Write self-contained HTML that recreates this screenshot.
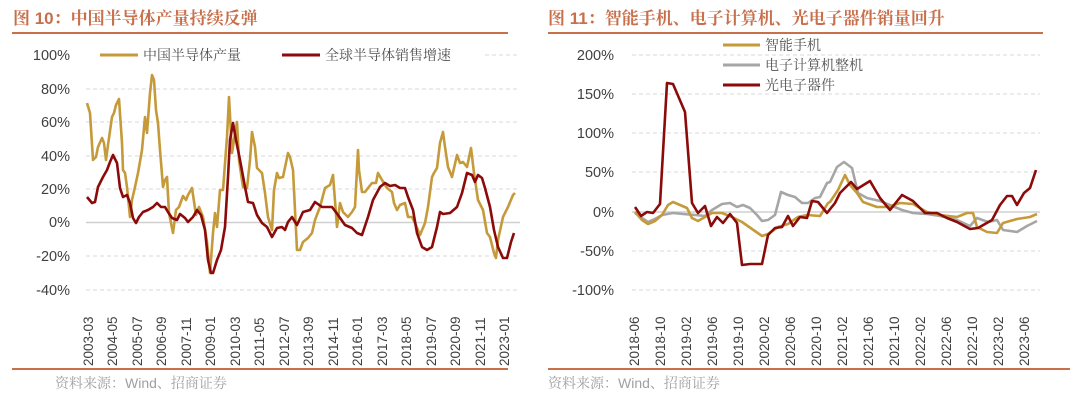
<!DOCTYPE html>
<html><head><meta charset="utf-8"><style>
body{margin:0;background:#fff;}
svg{display:block;font-family:"Liberation Sans","Noto Sans CJK SC",sans-serif;}
.t{font-size:17px;font-weight:bold;fill:#c8704c;font-family:"Liberation Sans","Noto Serif CJK SC",serif;}
.y{font-size:14.5px;fill:#404040;text-anchor:end;}
.x{font-size:13.5px;fill:#404040;}
.lg{font-size:14px;fill:#505050;font-family:"Liberation Sans","Noto Serif CJK SC",serif;}
.g{stroke:#d9d9d9;stroke-dasharray:4,3;stroke-width:1;}
.ln{fill:none;stroke-width:2.6;stroke-linejoin:round;}
.ft{font-size:14px;fill:#a0a0a0;font-family:"Liberation Sans","Noto Serif CJK SC",serif;}
</style></head><body>
<svg width="1080" height="400" viewBox="0 0 1080 400">
<text class="t" x="13" y="24">图 10：中国半导体产量持续反弹</text>
<line x1="12" y1="33" x2="508" y2="33" stroke="#c8704c" stroke-width="2"/>
<text class="t" x="548" y="24">图 11：智能手机、电子计算机、光电子器件销量回升</text>
<line x1="548" y1="33" x2="1043" y2="33" stroke="#c8704c" stroke-width="2"/>

<g class="g">
<line x1="86" y1="55" x2="520" y2="55"/><line x1="86" y1="89" x2="520" y2="89"/>
<line x1="86" y1="122" x2="520" y2="122"/><line x1="86" y1="156" x2="520" y2="156"/>
<line x1="86" y1="189" x2="520" y2="189"/><line x1="86" y1="256" x2="520" y2="256"/>
<line x1="86" y1="290" x2="520" y2="290"/>
</g>
<line x1="86" y1="222.5" x2="520" y2="222.5" stroke="#d0d0d0" stroke-width="1.5"/>
<g class="y">
<text x="70" y="60">100%</text><text x="70" y="94">80%</text><text x="70" y="127">60%</text>
<text x="70" y="161">40%</text><text x="70" y="194">20%</text><text x="70" y="227">0%</text>
<text x="70" y="261">-20%</text><text x="70" y="295">-40%</text>
</g>
<g class="x">
<text transform="translate(93,366) rotate(-90)">2003-03</text>
<text transform="translate(117,366) rotate(-90)">2004-05</text>
<text transform="translate(142,366) rotate(-90)">2005-07</text>
<text transform="translate(166,366) rotate(-90)">2006-09</text>
<text transform="translate(191,366) rotate(-90)">2007-11</text>
<text transform="translate(215,366) rotate(-90)">2009-01</text>
<text transform="translate(240,366) rotate(-90)">2010-03</text>
<text transform="translate(264,366) rotate(-90)">2011-05</text>
<text transform="translate(289,366) rotate(-90)">2012-07</text>
<text transform="translate(313,366) rotate(-90)">2013-09</text>
<text transform="translate(338,366) rotate(-90)">2014-11</text>
<text transform="translate(362,366) rotate(-90)">2016-01</text>
<text transform="translate(387,366) rotate(-90)">2017-03</text>
<text transform="translate(411,366) rotate(-90)">2018-05</text>
<text transform="translate(436,366) rotate(-90)">2019-07</text>
<text transform="translate(460,366) rotate(-90)">2020-09</text>
<text transform="translate(485,366) rotate(-90)">2021-11</text>
<text transform="translate(509,366) rotate(-90)">2023-01</text>
</g>
<polyline class="ln" stroke="#c59a3a" points="87,103 90,113 93,160 96,157 98,147 102,138 104,143 106,160 108,145 112,117 114,113 116,105 119,99 122,143 123,170 125,173 127,187 130,217 132,200 135,187 138,173 142,150 145,117 147,133 150,93 152,75 154,80 156,110 158,123 160,150 163,187 165,180 167,177 169,213 173,233 176,210 179,207 183,196 186,200 188,195 192,188 196,215 199,207 203,217 207,242 210,273 213,233 215,213 217,227 220,190 223,190 227,137 229,97 232,153 234,140 237,122 239,160 243,187 247,188 250,160 252,132 255,147 257,168 262,173 265,193 268,217 272,230 274,190 277,173 279,178 283,177 288,153 290,157 293,170 297,250 300,250 303,242 308,238 312,233 315,220 320,207 325,188 330,185 333,175 337,227 340,203 343,212 348,217 352,212 355,207 358,150 359,170 362,192 365,192 368,188 372,183 376,183 378,173 382,180 387,188 392,192 394,203 397,210 400,205 405,203 408,217 412,217 415,223 420,235 425,223 428,207 432,177 434,173 437,168 440,143 443,132 445,147 448,167 452,177 457,155 460,163 463,162 467,167 471,148 474,173 478,200 483,210 487,233 490,237 494,253 496,258 498,240 503,217 508,207 513,195 515,193"/>
<polyline class="ln" stroke="#8b0a0a" points="87,197 92,203 95,202 98,187 103,177 107,170 110,162 113,155 117,163 120,188 123,197 127,195 130,203 133,218 136,223 139,217 143,212 148,210 153,207 157,203 161,207 165,207 168,212 172,218 177,220 180,214 185,218 188,222 193,217 197,210 201,215 205,230 208,260 211,273 213,273 217,260 221,250 225,227 228,177 230,140 233,123 236,140 240,160 245,187 248,202 253,203 257,215 262,223 267,227 272,237 277,228 282,227 285,230 288,222 292,217 297,225 303,212 310,210 315,202 322,207 332,207 338,215 345,225 352,228 357,233 362,235 368,217 373,200 380,187 385,183 390,186 395,185 400,188 405,188 408,197 413,210 417,233 422,247 427,250 432,247 437,227 440,212 443,214 450,213 457,207 462,193 467,173 472,175 475,182 478,175 482,178 485,188 490,207 494,230 498,247 503,258 507,258 511,242 514,233"/>
<rect x="85" y="44" width="400" height="22" fill="#fff"/>
<line x1="100" y1="55" x2="138" y2="55" stroke="#c59a3a" stroke-width="3"/>
<text class="lg" x="143" y="60">中国半导体产量</text>
<line x1="282" y1="55" x2="320" y2="55" stroke="#8b0a0a" stroke-width="3"/>
<text class="lg" x="325" y="60">全球半导体销售增速</text>

<g class="g">
<line x1="632" y1="55" x2="1040" y2="55"/><line x1="632" y1="94" x2="1040" y2="94"/>
<line x1="632" y1="133" x2="1040" y2="133"/><line x1="632" y1="172" x2="1040" y2="172"/>
<line x1="632" y1="251" x2="1040" y2="251"/><line x1="632" y1="290" x2="1040" y2="290"/>
</g>
<line x1="632" y1="212" x2="1040" y2="212" stroke="#d0d0d0" stroke-width="1.5"/>
<g class="y">
<text x="614" y="60">200%</text><text x="614" y="99">150%</text><text x="614" y="138">100%</text>
<text x="614" y="177">50%</text><text x="614" y="217">0%</text><text x="614" y="256">-50%</text>
<text x="614" y="295">-100%</text>
</g>
<g class="x">
<text transform="translate(639,366) rotate(-90)">2018-06</text>
<text transform="translate(665,366) rotate(-90)">2018-10</text>
<text transform="translate(691,366) rotate(-90)">2019-02</text>
<text transform="translate(717,366) rotate(-90)">2019-06</text>
<text transform="translate(743,366) rotate(-90)">2019-10</text>
<text transform="translate(769,366) rotate(-90)">2020-02</text>
<text transform="translate(795,366) rotate(-90)">2020-06</text>
<text transform="translate(821,366) rotate(-90)">2020-10</text>
<text transform="translate(847,366) rotate(-90)">2021-02</text>
<text transform="translate(873,366) rotate(-90)">2021-06</text>
<text transform="translate(899,366) rotate(-90)">2021-10</text>
<text transform="translate(925,366) rotate(-90)">2022-02</text>
<text transform="translate(951,366) rotate(-90)">2022-06</text>
<text transform="translate(977,366) rotate(-90)">2022-10</text>
<text transform="translate(1003,366) rotate(-90)">2023-02</text>
<text transform="translate(1029,366) rotate(-90)">2023-06</text>
</g>
<polyline class="ln" stroke="#a6a6a6" points="635,213 642,218 648,222 655,219 662,215 673,213 683,214 695,215 705,216 712,210 722,204 730,203 737,207 743,205 750,208 757,215 762,221 768,220 775,215 781,192 788,195 795,197 802,203 808,203 815,198 820,197 827,183 830,182 837,167 844,162 852,168 858,193 867,198 880,201 890,205 902,210 913,213 927,214 940,216 957,220 970,226 977,218 988,222 997,220 1003,230 1017,232 1027,226 1037,221"/>
<polyline class="ln" stroke="#c59a3a" points="635,212 642,220 648,224 655,221 662,215 668,205 673,202 680,205 687,208 692,218 698,221 705,217 712,213 722,213 732,217 742,222 752,229 762,236 768,234 778,227 788,224 798,217 807,215 820,216 828,203 830,202 838,190 845,175 850,185 857,193 863,202 877,207 888,207 900,203 913,204 927,212 940,215 957,217 967,213 973,213 977,227 987,232 997,233 1003,223 1017,219 1030,217 1037,214"/>
<polyline class="ln" stroke="#8b0a0a" points="635,207 641,216 647,212 653,213 660,204 667,83 673,84 685,112 692,203 698,213 705,206 711,226 717,217 723,223 730,214 737,223 742,265 750,264 762,264 768,235 775,228 782,227 788,216 793,226 800,217 807,218 812,201 818,202 827,213 835,203 840,193 851,182 857,189 870,181 880,198 890,210 902,195 913,201 925,213 937,213 947,218 957,222 970,229 978,228 992,220 1000,205 1007,196 1012,196 1017,205 1024,193 1030,188 1036,170"/>
<line x1="723" y1="45" x2="760" y2="45" stroke="#c59a3a" stroke-width="3"/>
<text class="lg" x="765" y="50">智能手机</text>
<line x1="723" y1="65" x2="760" y2="65" stroke="#a6a6a6" stroke-width="3"/>
<text class="lg" x="765" y="70">电子计算机整机</text>
<line x1="723" y1="85" x2="760" y2="85" stroke="#8b0a0a" stroke-width="3"/>
<text class="lg" x="765" y="90">光电子器件</text>

<line x1="12" y1="369" x2="508" y2="369" stroke="#c8704c" stroke-width="2"/>
<line x1="548" y1="369" x2="1070" y2="369" stroke="#c8704c" stroke-width="2"/>
<text class="ft" x="55" y="388">资料来源：Wind、招商证券</text>
<text class="ft" x="548" y="388">资料来源：Wind、招商证券</text>
</svg>
</body></html>
